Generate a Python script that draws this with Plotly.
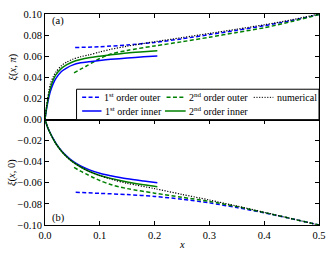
import plotly.graph_objects as go

# ---------------- data ----------------
# panel (a): xi(x, pi)
a_num_x = [0, 0.0025, 0.005, 0.0075, 0.01, 0.015, 0.02, 0.03, 0.04, 0.05, 0.065, 0.08,
           0.1, 0.12, 0.15, 0.2, 0.25, 0.3, 0.35, 0.4, 0.45, 0.5]
a_num_y = [0, 0.0115, 0.0205, 0.028, 0.034, 0.0405, 0.045, 0.051, 0.0545, 0.057, 0.0595, 0.0612,
           0.0640, 0.0665, 0.0695, 0.0737, 0.0776, 0.0816, 0.0856, 0.0898, 0.0945, 0.100]

inner_x = [0, 0.0025, 0.005, 0.0075, 0.01, 0.015, 0.02, 0.03, 0.04, 0.05, 0.065, 0.08,
           0.1, 0.12, 0.15, 0.18, 0.205]
a_in1_y = [0, 0.009, 0.016, 0.022, 0.027, 0.034, 0.039, 0.0455, 0.049, 0.0515, 0.0537, 0.0548,
           0.0560, 0.0570, 0.0583, 0.0594, 0.0602]
a_in2_y = [0, 0.010, 0.018, 0.025, 0.030, 0.0375, 0.0425, 0.0485, 0.052, 0.0545, 0.0568, 0.0585,
           0.0600, 0.0613, 0.0630, 0.0642, 0.0651]

a_out1_x = [0.055, 0.1, 0.15, 0.2, 0.25, 0.3, 0.35, 0.4, 0.45, 0.5]
a_out1_y = [0.0682, 0.0690, 0.0706, 0.0731, 0.0765, 0.0805, 0.0846, 0.0889, 0.0938, 0.0995]

a_out2_x = [0.053, 0.065, 0.075, 0.09, 0.1, 0.12, 0.15, 0.2, 0.25, 0.3, 0.35, 0.4, 0.45, 0.5]
a_out2_y = [0.0442, 0.0478, 0.0505, 0.0550, 0.0578, 0.0620, 0.0655, 0.0697, 0.0737, 0.0780,
            0.0825, 0.0870, 0.0928, 0.0995]

# panel (b): xi(x, 0)
b_num_x = [0, 0.0025, 0.005, 0.01, 0.015, 0.02, 0.03, 0.04, 0.05, 0.065, 0.08, 0.1, 0.12,
           0.15, 0.2, 0.25, 0.3, 0.35, 0.4, 0.45, 0.5]
b_num_y = [0, -0.004, -0.0078, -0.0135, -0.0185, -0.023, -0.030, -0.0355, -0.040, -0.0450,
           -0.0490, -0.0531, -0.0565, -0.0605, -0.0655, -0.0710, -0.0763, -0.0820, -0.0880,
           -0.0940, -0.100]

b_inner_x = [0, 0.0025, 0.005, 0.01, 0.015, 0.02, 0.03, 0.04, 0.05, 0.065, 0.08, 0.1, 0.12,
             0.15, 0.18, 0.205]
b_in1_y = [0, -0.004, -0.0077, -0.0133, -0.0182, -0.0226, -0.0295, -0.0348, -0.0392, -0.0440,
           -0.0475, -0.0510, -0.0533, -0.0562, -0.0583, -0.0599]
b_in2_y = [0, -0.004, -0.0078, -0.0135, -0.0185, -0.023, -0.030, -0.0355, -0.040, -0.0450,
           -0.0490, -0.0530, -0.0558, -0.0592, -0.0618, -0.0637]

b_out1_x = [0.056, 0.1, 0.15, 0.2, 0.25, 0.3, 0.35, 0.4, 0.45, 0.5]
b_out1_y = [-0.0690, -0.0700, -0.0712, -0.0729, -0.0756, -0.0790, -0.0835, -0.0885, -0.0940, -0.1000]

b_out2_x = [0.053, 0.065, 0.075, 0.09, 0.1, 0.117, 0.15, 0.2, 0.25, 0.3, 0.35, 0.4, 0.45, 0.5]
b_out2_y = [-0.0454, -0.0490, -0.0516, -0.0555, -0.0578, -0.0612, -0.0655, -0.0698, -0.0737,
            -0.0777, -0.0825, -0.0882, -0.0940, -0.1000]

x_ticks = [0.0, 0.1, 0.2, 0.3, 0.4, 0.5]
a_yticks = [0.0, 0.02, 0.04, 0.06, 0.08, 0.10]
b_yticks = [-0.10, -0.08, -0.06, -0.04, -0.02]

legend_labels = ["1<sup>st</sup> order outer", "2<sup>nd</sup> order outer", "numerical",
                 "1<sup>st</sup> order inner", "2<sup>nd</sup> order inner"]

# ---------------- style ----------------
BLUE = "#0000ff"
GREEN = "#008000"
FONT = "Liberation Serif, DejaVu Serif, serif"
DASH = "4px,2.4px"
DOT = "1.2px,1.5px"

fig = go.Figure()

def add(x, y, color, dash, width, xa, ya):
    fig.add_trace(go.Scatter(x=x, y=y, mode="lines", xaxis=xa, yaxis=ya,
                             line=dict(color=color, dash=dash, width=width, shape="spline", smoothing=0.8),
                             showlegend=False, hoverinfo="skip"))

for xa, ya, o1x, o1y, o2x, o2y, ix, i1, i2, nx, ny in [
    ("x2", "y", a_out1_x, a_out1_y, a_out2_x, a_out2_y, inner_x, a_in1_y, a_in2_y, a_num_x, a_num_y),
    ("x", "y2", b_out1_x, b_out1_y, b_out2_x, b_out2_y, b_inner_x, b_in1_y, b_in2_y, b_num_x, b_num_y),
]:
    add(o1x, o1y, BLUE, DASH, 1.5, xa, ya)
    add(o2x, o2y, GREEN, DASH, 1.5, xa, ya)
    add(ix, i1, BLUE, "solid", 1.5, xa, ya)
    add(ix, i2, GREEN, "solid", 1.5, xa, ya)
    add(nx, ny, "black", DOT, 1.2, xa, ya)

axis_common = dict(showline=True, linecolor="black", linewidth=1, mirror="ticks",
                   ticks="inside", ticklen=4, tickwidth=1, tickcolor="black",
                   showgrid=False, zeroline=False,
                   tickfont=dict(family=FONT, size=10.5, color="black"))

fig.update_layout(
    width=335, height=255,
    margin=dict(l=45, r=12, t=9, b=30),
    paper_bgcolor="white", plot_bgcolor="white",
    font=dict(family=FONT, color="black"),
    hovermode=False,
    xaxis=dict(domain=[0, 1], anchor="y2", range=[0, 0.5], tickvals=x_ticks,
               tickformat=".1f", **axis_common),
    xaxis2=dict(domain=[0, 1], anchor="y", range=[0, 0.5], matches="x", tickvals=x_ticks,
                showticklabels=False, **axis_common),
    yaxis=dict(domain=[0.5, 1], anchor="x2", range=[0, 0.10], tickvals=a_yticks,
               tickformat=".2f", **axis_common),
    yaxis2=dict(domain=[0, 0.5], anchor="x", range=[-0.10, 0], tickvals=b_yticks,
                tickformat=".2f", **axis_common),
)

# axis titles and panel labels
fig.add_annotation(text="<i>ξ</i>(<i>x</i>, <i>π</i>)", xref="paper", yref="y domain",
                   x=-0.118, y=0.5, xanchor="center", yanchor="middle", textangle=-90,
                   showarrow=False, font=dict(family=FONT, size=10.5))
fig.add_annotation(text="<i>ξ</i>(<i>x</i>, 0)", xref="paper", yref="y2 domain",
                   x=-0.118, y=0.5, xanchor="center", yanchor="middle", textangle=-90,
                   showarrow=False, font=dict(family=FONT, size=10.5))
fig.add_annotation(text="<i>x</i>", xref="paper", yref="paper", x=0.5, y=-0.093,
                   xanchor="center", yanchor="middle", showarrow=False,
                   font=dict(family=FONT, size=10.5))
fig.add_annotation(text="(a)", xref="x2 domain", yref="y domain", x=0.018, y=0.93,
                   xanchor="left", yanchor="middle", showarrow=False,
                   font=dict(family=FONT, size=10.5))
fig.add_annotation(text="(b)", xref="x domain", yref="y2 domain", x=0.018, y=0.07,
                   xanchor="left", yanchor="middle", showarrow=False,
                   font=dict(family=FONT, size=10.5))

# legend box (in panel (a) data units)
fig.add_shape(type="rect", xref="x2", yref="y", x0=0.0576, x1=0.5, y0=0, y1=0.0287,
              line=dict(color="black", width=1), fillcolor="white", layer="above")

leg_items = [
    # (x0, x1, xtext, y, color, dash, width)
    (0.0678, 0.1013, 0.1065, 0.0210, BLUE, DASH, 1.5),
    (0.2218, 0.2554, 0.2605, 0.0210, GREEN, DASH, 1.5),
    (0.3808, 0.4167, 0.4210, 0.0210, "black", DOT, 1.0),
    (0.0678, 0.1031, 0.1075, 0.0081, BLUE, "solid", 1.5),
    (0.2189, 0.2567, 0.2615, 0.0081, GREEN, "solid", 1.5),
]
for (x0, x1, xt, yy, col, dsh, w), lab in zip(leg_items, legend_labels):
    fig.add_shape(type="line", xref="x2", yref="y", x0=x0, x1=x1, y0=yy, y1=yy,
                  line=dict(color=col, dash=dsh, width=w), layer="above")
    fig.add_annotation(text=lab, xref="x2", yref="y", x=xt, y=yy, xanchor="left",
                       yanchor="middle", showarrow=False,
                       font=dict(family=FONT, size=10), borderpad=0)

fig.write_html("out.html",
               config={"displayModeBar": False, "staticPlot": True},
               post_script="document.body.style.margin='0';document.body.style.overflow='hidden';")
